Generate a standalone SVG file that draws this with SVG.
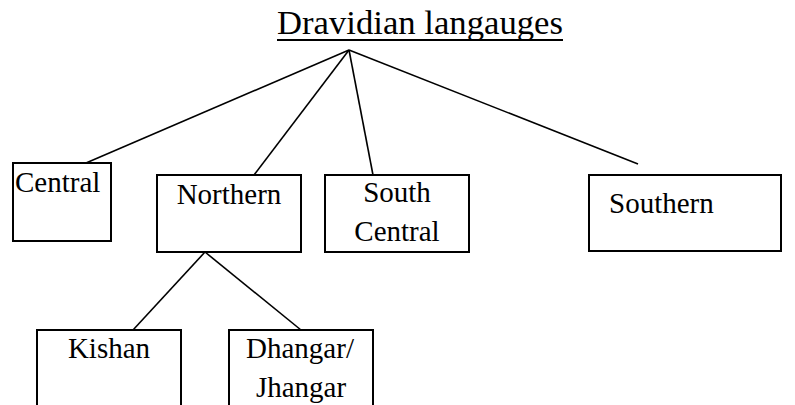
<svg xmlns="http://www.w3.org/2000/svg" width="795" height="405" viewBox="0 0 795 405">
<style>
.box{fill:#fff;stroke:#000;stroke-width:2}
.c{text-anchor:middle}
.ln{stroke:#000;stroke-width:1.6;fill:none}
</style>
<rect width="795" height="405" fill="#fff"/>
<g id="title">
<text x="277" y="34" font-family="Liberation Serif, Times New Roman, serif" font-size="34.5" fill="#000" textLength="286" lengthAdjust="spacingAndGlyphs">Dravidian langauges</text>
<line x1="277" y1="40" x2="563" y2="40" stroke="#000" stroke-width="2"/>
</g>
<g id="connectors">
<line class="ln" x1="349" y1="50" x2="86" y2="163"/>
<line class="ln" x1="349" y1="50" x2="254" y2="175"/>
<line class="ln" x1="349" y1="50" x2="373" y2="175"/>
<line class="ln" x1="349" y1="50" x2="638" y2="164"/>
<line class="ln" x1="205" y1="252" x2="133" y2="330"/>
<line class="ln" x1="205" y1="252" x2="301" y2="330"/>
</g>
<g font-family="Liberation Serif, Times New Roman, serif" font-size="29" fill="#000">
<g id="central">
<rect class="box" x="13" y="163" width="98" height="78"/>
<text x="15" y="192">Central</text>
</g>
<g id="northern">
<rect class="box" x="157" y="175" width="144" height="77"/>
<text class="c" x="229" y="204">Northern</text>
</g>
<g id="south-central">
<rect class="box" x="325" y="175" width="144" height="77"/>
<text class="c" x="397" y="202">South</text>
<text class="c" x="397" y="241">Central</text>
</g>
<g id="southern">
<rect class="box" x="589" y="175" width="192" height="76"/>
<text x="609" y="213">Southern</text>
</g>
<g id="kishan">
<rect class="box" x="37" y="330" width="144" height="100"/>
<text class="c" x="109" y="358">Kishan</text>
</g>
<g id="dhangar">
<rect class="box" x="229" y="330" width="144" height="100"/>
<text class="c" x="300" y="358">Dhangar/</text>
<text class="c" x="301" y="397">Jhangar</text>
</g>
</g>
</svg>
